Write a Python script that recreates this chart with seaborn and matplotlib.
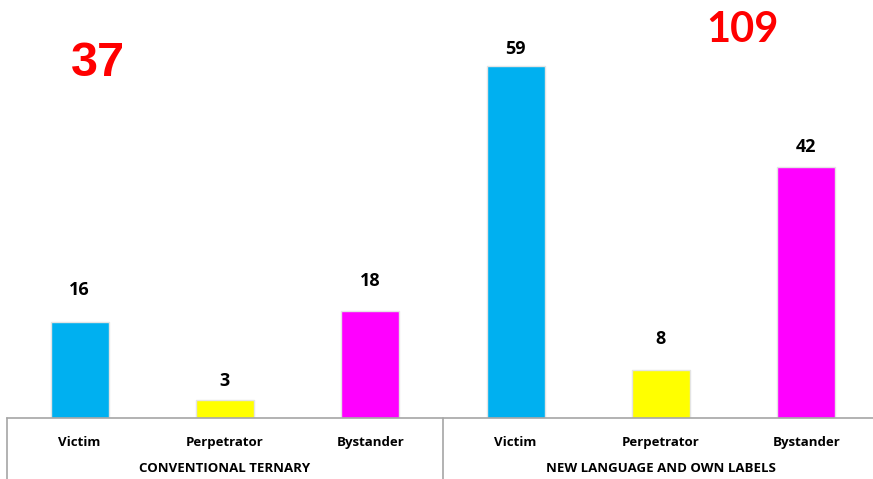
import matplotlib
matplotlib.use("Agg")
import matplotlib.pyplot as plt
import matplotlib.transforms as mtransforms
import seaborn as sns
import pandas as pd

# ---- data ----
groups = ["CONVENTIONAL TERNARY", "NEW LANGUAGE AND OWN LABELS"]
roles = ["Victim", "Perpetrator", "Bystander"]
conventional = [16, 3, 18]
new_language = [59, 8, 42]
group_totals = [37, 109]

colors = ["#00B0F0", "#FFFF00", "#FF00FF"]

rows = []
for g, vals in zip(groups, [conventional, new_language]):
    for r, v in zip(roles, vals):
        rows.append({"slot": f"{g}|{r}", "group": g, "role": r, "value": v})
df = pd.DataFrame(rows)

sns.set_theme(style="white")
plt.rcParams["font.family"] = ["Open Sans", "DejaVu Sans"]

fig = plt.figure(figsize=(8.73, 4.79), dpi=100)
ax = fig.add_axes([7 / 873, 61 / 479, 872 / 873, 418 / 479])

sns.barplot(data=df, x="slot", y="value", hue="role", palette=colors,
            width=0.4, dodge=False, legend=False, ax=ax, saturation=1,
            edgecolor="#e4e4e4", linewidth=1.0)

ax.set_xlim(-0.5, 5.5)
ax.set_ylim(0, 70)
ax.set_xlabel("")
ax.set_ylabel("")
ax.set_yticks([])
ax.set_xticks(range(len(df)))
ax.set_xticklabels(df["role"], fontsize=9.5, fontweight="bold", color="#000000")
ax.tick_params(axis="x", length=0, pad=13)
for s in ["top", "left", "right"]:
    ax.spines[s].set_visible(False)
ax.spines["bottom"].set_color("#a6a6a6")
ax.spines["bottom"].set_linewidth(1.2)

# value labels (offsets in pixels as seen in the reference)
label_offsets = [32, 19, 30, 17, 31, 20]
for i, (v, off) in enumerate(zip(df["value"], label_offsets)):
    ax.annotate(str(v), xy=(i, v), xytext=(0, off * 0.72), textcoords="offset points",
                ha="center", va="center", fontsize=13, fontweight="bold", color="#000000")

# group separators and labels
trans = mtransforms.blended_transform_factory(ax.transData, ax.transAxes)
for x in [-0.5, 2.5, 5.5]:
    ax.plot([x, x], [0, -0.16], transform=trans, color="#a6a6a6", lw=1.2, clip_on=False)
for gi, g in enumerate(groups):
    ax.text(gi * 3 + 1, -51 / 418, g, transform=trans, ha="center", va="center",
            fontsize=9.5, fontweight="bold", color="#000000")

# group totals
fig.text(98 / 873, 1 - 64 / 479, str(group_totals[0]), ha="center", va="center",
         fontsize=35, fontweight="bold", color="#FF0000", family=["Liberation Sans", "DejaVu Sans"])
fig.text(742 / 873, 1 - 30 / 479, str(group_totals[1]), ha="center", va="center",
         fontsize=30, fontweight="bold", color="#FF0000", family=["Lato", "DejaVu Sans"])

fig.savefig("out.png", dpi=100)
